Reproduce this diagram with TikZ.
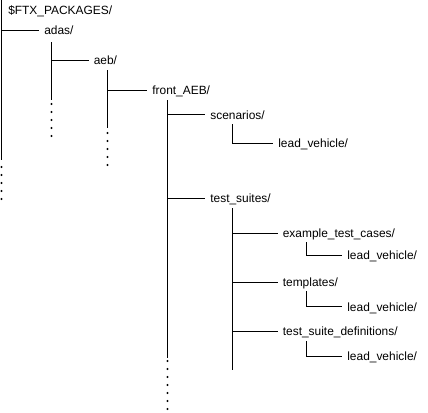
\documentclass[tikz,border=0pt]{standalone}
\usepackage{fontspec}
\setmainfont{Liberation Sans}
\begin{document}
\begin{tikzpicture}[x=0.75pt,y=-0.75pt,
  dir/.style={anchor=west,inner xsep=3.8pt,inner ysep=0pt,text height=7.6pt,text depth=0.75pt,
    font=\fontsize{8.95}{10}\selectfont},
  tline/.style={line width=0.75pt,black},
  dotmark/.style={fill=black}]
\useasboundingbox (0,0) rectangle (428,412);
% nodes
\node[dir,anchor=base west,inner xsep=0pt] (ftx) at (8,14.5) {\$FTX\_PACKAGES/};
\node[dir] (adas) at (39,30) {adas/};
\node[dir] (aeb) at (88.5,60) {aeb/};
\node[dir] (front) at (147,90) {front\_AEB/};
\node[dir] (scen) at (205,114.5) {scenarios/};
\node[dir] (scenlv) at (273,143) {lead\_vehicle/};
\node[dir] (ts) at (205,198) {test\_suites/};
\node[dir] (ex) at (277.5,233) {example\_test\_cases/};
\node[dir] (exlv) at (342,255) {lead\_vehicle/};
\node[dir] (tmp) at (277.5,282) {templates/};
\node[dir] (tmplv) at (342,306.5) {lead\_vehicle/};
\node[dir] (tsd) at (277.5,331) {test\_suite\_definitions/};
\node[dir] (tsdlv) at (342,356) {lead\_vehicle/};
% vertical trunk coordinates
\coordinate (rootA) at (1.5,0);
\coordinate (rootB) at (1.5,160);
\coordinate (adasA) at (51.5,42);
\coordinate (adasB) at (51.5,100);
\coordinate (aebA) at (107.5,70);
\coordinate (aebB) at (107.5,128);
\coordinate (frontA) at (167.5,100);
\coordinate (frontB) at (167.5,358);
\coordinate (scenA) at (232.5,124);
\coordinate (tsA) at (232.5,208);
\coordinate (tsB) at (232.5,370);
\coordinate (exA) at (306.5,242);
\coordinate (tmpA) at (306.5,291);
\coordinate (tsdA) at (306.5,341);
% trunks
\draw[tline] (rootA) -- (rootB);
\draw[tline] (adasA) -- (adasB);
\draw[tline] (aebA) -- (aebB);
\draw[tline] (frontA) -- (frontB);
\draw[tline] (tsA) -- (tsB);
% branches
\draw[tline] (rootA |- adas.west) -- (adas.west);
\draw[tline] (adasA |- aeb.west) -- (aeb.west);
\draw[tline] (aebA |- front.west) -- (front.west);
\draw[tline] (frontA |- scen.west) -- (scen.west);
\draw[tline] (frontA |- ts.west) -- (ts.west);
\draw[tline] (scenA) -- (scenA |- scenlv.west) -- (scenlv.west);
\draw[tline] (tsA |- ex.west) -- (ex.west);
\draw[tline] (tsA |- tmp.west) -- (tmp.west);
\draw[tline] (tsA |- tsd.west) -- (tsd.west);
\draw[tline] (exA) -- (exA |- exlv.west) -- (exlv.west);
\draw[tline] (tmpA) -- (tmpA |- tmplv.west) -- (tmplv.west);
\draw[tline] (tsdA) -- (tsdA |- tsdlv.west) -- (tsdlv.west);
% continuation dots
\foreach \k in {0,...,4} {
  \fill[dotmark] (1.5,167+8*\k) circle (0.8pt);
  \fill[dotmark] (51.5,104+8*\k) circle (0.8pt);
  \fill[dotmark] (107.5,133+8*\k) circle (0.8pt);
}
\foreach \k in {0,...,6} {
  \fill[dotmark] (167.5,361+8*\k) circle (0.8pt);
}
\end{tikzpicture}
\end{document}
